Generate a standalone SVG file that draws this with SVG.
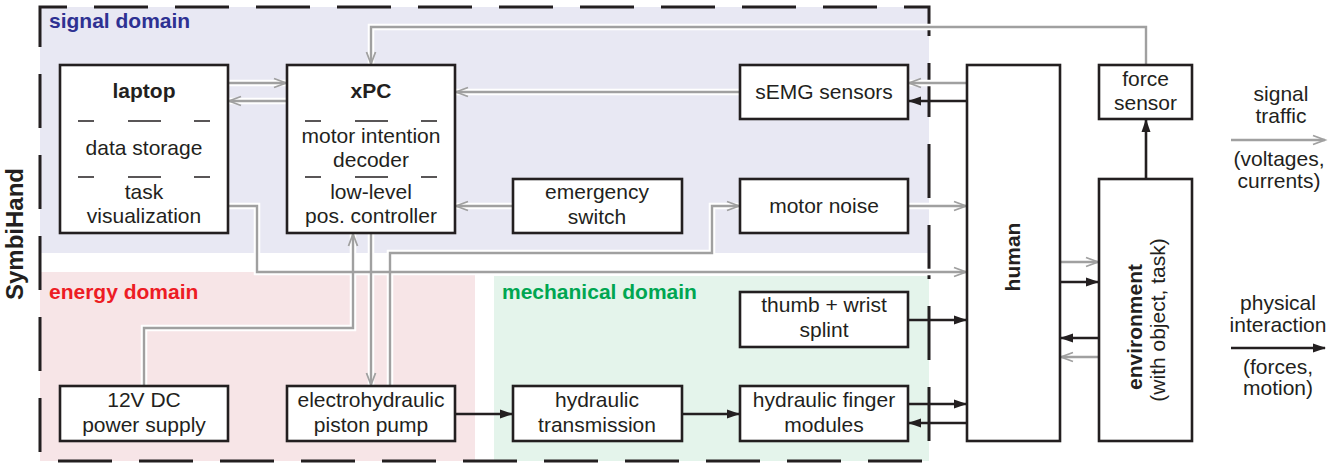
<svg xmlns="http://www.w3.org/2000/svg" width="1340" height="464" viewBox="0 0 1340 464">
<style>
text{font-family:"Liberation Sans",Arial,sans-serif;font-size:21px;fill:#231f20}
.b{font-weight:bold}
.c{text-anchor:middle}
.box{fill:#fff;stroke:#231f20;stroke-width:2.6}
.sep{stroke:#231f20;stroke-width:1.3}
.halo{fill:none;stroke:#fff;stroke-width:6.5}
.sig{fill:none;stroke:#a0a0a0;stroke-width:2.4}
.phy{fill:none;stroke:#231f20;stroke-width:2.6}
</style>
<defs>
<marker id="ga" markerUnits="userSpaceOnUse" markerWidth="14" markerHeight="12" refX="12" refY="5" orient="auto" overflow="visible">
<path d="M0,0.5 L12,5 L0,9.5" fill="none" stroke="#a0a0a0" stroke-width="1.8"/>
</marker>
<marker id="ba" markerUnits="userSpaceOnUse" markerWidth="14" markerHeight="12" refX="12" refY="5" orient="auto" overflow="visible">
<path d="M0,0.5 L13,5 L0,9.5 z" fill="#231f20"/>
</marker>
</defs>
<g id="domains">
<rect x="40" y="7" width="889" height="246" fill="#e8e8f3"/>
<rect x="40" y="272" width="435" height="189" fill="#f7e5e7"/>
<rect x="494" y="276" width="435" height="185" fill="#e4f4eb"/>
<rect x="40" y="7" width="889" height="454" fill="none" stroke="#231f20" stroke-width="3" stroke-dasharray="54 27" stroke-dashoffset="27"/>
<text x="49" y="28" class="b" fill="#2e3192" style="fill:#2e3192">signal domain</text>
<text x="49" y="299" class="b" style="fill:#ed1c24">energy domain</text>
<text x="502" y="299" class="b" style="fill:#00a651">mechanical domain</text>
<text class="b c" style="font-size:24px" transform="translate(23,234) rotate(-90)">SymbiHand</text>
</g>
<g id="connectors">
<g class="halo">
<path d="M228,83 H287"/><path d="M287,101 H228"/><path d="M1146,65 V27 H371 V65"/>
<path d="M740,92 H455"/><path d="M513,206 H455"/><path d="M967,83 H908"/><path d="M908,206 H967"/>
<path d="M228,206 H257 V272 H967"/><path d="M371,233 V386"/><path d="M144,386 V328 H353 V233"/>
<path d="M390,386 V253 H712 V206 H740"/><path d="M1060,262 H1099"/><path d="M1099,357 H1060"/>
</g>
<g class="sig" marker-end="url(#ga)">
<path d="M228,83 H286"/><path d="M287,101 H229"/><path d="M1146,65 V27 H371 V64"/>
<path d="M740,92 H456"/><path d="M513,206 H456"/><path d="M967,83 H909"/><path d="M908,206 H966"/>
<path d="M228,206 H257 V272 H966"/><path d="M371,233 V385"/><path d="M144,386 V328 H353 V234"/>
<path d="M390,386 V253 H712 V206 H739"/><path d="M1060,262 H1098"/><path d="M1099,357 H1061"/>
<path d="M1231,140 H1325"/>
</g>
<g class="phy" marker-end="url(#ba)">
<path d="M455,414 H512"/><path d="M682,414 H739"/><path d="M908,320 H966"/><path d="M908,404 H966"/>
<path d="M967,423 H909"/><path d="M967,101 H909"/><path d="M1060,282 H1098"/><path d="M1099,338 H1061"/>
<path d="M1146,179 V120"/><path d="M1231,348 H1325"/>
</g>
</g>
<g id="laptop">
<rect class="box" x="60" y="65" width="168" height="168"/>
<text class="b c" x="144" y="98">laptop</text>
<path class="sep" d="M78,121 H94 M128,121 H161 M194,121 H210 M78,177 H94 M128,177 H161 M194,177 H210"/>
<text class="c" x="144" y="155">data storage</text>
<text class="c" x="144" y="199">task</text>
<text class="c" x="144" y="223">visualization</text>
</g>
<g id="xpc">
<rect class="box" x="287" y="65" width="168" height="168"/>
<text class="b c" x="371" y="98">xPC</text>
<path class="sep" d="M305,121 H321 M355,121 H388 M421,121 H437 M305,177 H321 M355,177 H388 M421,177 H437"/>
<text class="c" x="371" y="143">motor intention</text>
<text class="c" x="371" y="167">decoder</text>
<text class="c" x="371" y="199">low-level</text>
<text class="c" x="371" y="223">pos. controller</text>
</g>
<g id="semg">
<rect class="box" x="740" y="65" width="168" height="54"/>
<text class="c" x="824" y="99">sEMG sensors</text>
</g>
<g id="emergency">
<rect class="box" x="513" y="179" width="169" height="54"/>
<text class="c" x="597" y="199">emergency</text>
<text class="c" x="597" y="224">switch</text>
</g>
<g id="motornoise">
<rect class="box" x="740" y="179" width="168" height="54"/>
<text class="c" x="824" y="213">motor noise</text>
</g>
<g id="forcesensor">
<rect class="box" x="1099" y="65" width="93" height="54"/>
<text class="c" x="1145.5" y="86">force</text>
<text class="c" x="1145.5" y="110">sensor</text>
</g>
<g id="human">
<rect class="box" x="967" y="65" width="93" height="376"/>
<text class="b c" transform="translate(1020,257) rotate(-90)">human</text>
</g>
<g id="environment">
<rect class="box" x="1099" y="179" width="93" height="262"/>
<text class="b c" transform="translate(1142,327) rotate(-90)">environment</text>
<text class="c" transform="translate(1165,320) rotate(-90)">(with object, task)</text>
</g>
<g id="powersupply">
<rect class="box" x="60" y="386" width="168" height="55"/>
<text class="c" x="144" y="407">12V DC</text>
<text class="c" x="144" y="432">power supply</text>
</g>
<g id="pump">
<rect class="box" x="287" y="386" width="168" height="55"/>
<text class="c" x="371" y="407">electrohydraulic</text>
<text class="c" x="371" y="432">piston pump</text>
</g>
<g id="transmission">
<rect class="box" x="513" y="386" width="169" height="55"/>
<text class="c" x="597" y="407">hydraulic</text>
<text class="c" x="597" y="432">transmission</text>
</g>
<g id="fingers">
<rect class="box" x="740" y="386" width="168" height="55"/>
<text class="c" x="824" y="407">hydraulic finger</text>
<text class="c" x="824" y="432">modules</text>
</g>
<g id="splint">
<rect class="box" x="740" y="292" width="168" height="55"/>
<text class="c" x="824" y="312">thumb + wrist</text>
<text class="c" x="824" y="337">splint</text>
</g>
<g id="legend">
<text class="c" x="1281" y="101">signal</text>
<text class="c" x="1281" y="123">traffic</text>
<text class="c" x="1279" y="166">(voltages,</text>
<text class="c" x="1279" y="188">currents)</text>
<text class="c" x="1278" y="310">physical</text>
<text class="c" x="1278" y="332">interaction</text>
<text class="c" x="1278" y="374">(forces,</text>
<text class="c" x="1278" y="395">motion)</text>
</g>
</svg>
